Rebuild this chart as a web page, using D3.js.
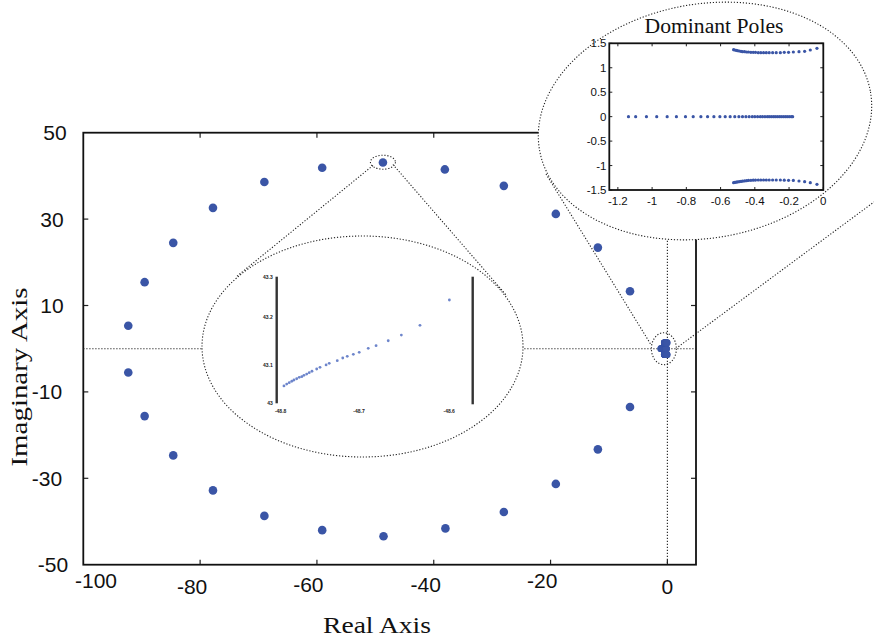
<!DOCTYPE html>
<html>
<head>
<meta charset="utf-8">
<script src="https://cdn.jsdelivr.net/npm/d3@7/dist/d3.min.js"></script>
<style>
  html, body { margin: 0; padding: 0; background: #fff; }
  svg { display: block; }
</style>
</head>
<body>
<svg id="chart" width="874" height="642"></svg>
<script>
// ---- closed-loop poles (ring) ----
const ringRe = [-48.7, -59.1, -69.0, -77.8, -84.6, -89.5, -92.3, -38.1, -28.0, -19.1, -11.9, -6.4,
                -92.3, -89.5, -84.6, -77.8, -69.0, -59.1, -48.6, -38.0, -28.0, -19.1, -11.9, -6.4];
const ringIm = [43.1, 41.9, 38.6, 32.6, 24.5, 15.4, 5.3, 41.5, 37.7, 31.2, 23.4, 13.3,
                -5.5, -15.6, -24.7, -32.8, -38.7, -42.0, -43.4, -41.6, -37.8, -31.3, -23.3, -13.5];

// ---- dominant poles ----
const realBranchRe = [-1.138, -1.096, -1.033, -0.973, -0.912, -0.858, -0.805, -0.760, -0.715, -0.676,
                      -0.639, -0.604, -0.573, -0.544, -0.517, -0.493, -0.472, -0.452, -0.433, -0.415,
                      -0.400, -0.384, -0.368, -0.355, -0.341, -0.327, -0.316, -0.304, -0.292, -0.281,
                      -0.269, -0.257, -0.246, -0.234, -0.222, -0.211, -0.199, -0.187, -0.179];
const upperRe = [-0.524, -0.517, -0.509, -0.501, -0.491, -0.481, -0.472, -0.460, -0.448, -0.437,
                 -0.423, -0.409, -0.396, -0.380, -0.365, -0.349, -0.333, -0.316, -0.296, -0.275,
                 -0.251, -0.228, -0.203, -0.175, -0.142, -0.109, -0.076, -0.037];
const upperIm = [1.370, 1.363, 1.357, 1.350, 1.343, 1.336, 1.329, 1.329, 1.322, 1.322,
                 1.316, 1.316, 1.316, 1.309, 1.309, 1.309, 1.309, 1.309, 1.309, 1.309,
                 1.309, 1.316, 1.316, 1.322, 1.329, 1.336, 1.363, 1.397];
const lowerRe = upperRe;
const lowerIm = [-1.350, -1.345, -1.340, -1.335, -1.330, -1.325, -1.320, -1.315, -1.310, -1.305,
                 -1.302, -1.300, -1.298, -1.295, -1.295, -1.295, -1.295, -1.295, -1.295, -1.295,
                 -1.295, -1.300, -1.302, -1.305, -1.316, -1.329, -1.350, -1.384];

// ---- magnified pole trajectory (fraction of the magnified frame) ----
const miniU = [0.881, 0.731, 0.636, 0.569, 0.507, 0.467, 0.421, 0.391, 0.360, 0.337, 0.309, 0.268, 0.252,
               0.221, 0.204, 0.180, 0.166, 0.153, 0.139, 0.128, 0.115, 0.102, 0.088, 0.077, 0.064, 0.051, 0.037];
const miniV = [0.816, 0.616, 0.539, 0.494, 0.455, 0.434, 0.403, 0.387, 0.371, 0.358, 0.337, 0.316, 0.303,
               0.284, 0.271, 0.253, 0.242, 0.231, 0.221, 0.210, 0.205, 0.194, 0.184, 0.174, 0.163, 0.152, 0.137];
const miniLeftLabels = ["43.3", "43.2", "43.1", "43"];
const miniBottomLabels = ["-48.8", "-48.7", "-48.6"];

// ---- tick values ----
const xTicks = [-100, -80, -60, -40, -20, 0];
const yTicks = [50, 30, 10, -10, -30, -50];
const insetXTicks = [-1.2, -1, -0.8, -0.6, -0.4, -0.2, 0];
const insetYTicks = [1.5, 1, 0.5, 0, -0.5, -1, -1.5];

// label placement tweaks (pixels)
const xLabelDx = [12.7, -8, -8.6, -8, -8.4, 0];
const xLabelDy = [16, 21.3, 19.3, 19.3, 16, 21.3];
const yLabelDx = [-28.3, -31.3, -31.3, -36.3, -36.3, -30.3];

const BLUE = "#3a55a6";
const DOT = "1.2,1.8";
const sansFont = "'Liberation Sans', Arial, sans-serif";
const serifFont = "'Liberation Serif', 'Times New Roman', serif";

const svg = d3.select("#chart");

// ================= main plot =================
const x = d3.scaleLinear().domain([-100, 4.9]).range([83.3, 696]);
const y = d3.scaleLinear().domain([-50, 50]).range([564.7, 132.7]);
const [L, R] = x.range();
const [B, T] = y.range();

const main = svg.append("g");

// inward ticks on all four sides
const tickG = main.append("g").attr("stroke", "#222").attr("stroke-width", 1.2);
xTicks.slice(1).forEach(v => {
  tickG.append("line").attr("x1", x(v)).attr("x2", x(v)).attr("y1", B).attr("y2", B - 5);
  tickG.append("line").attr("x1", x(v)).attr("x2", x(v)).attr("y1", T).attr("y2", T + 5);
});
yTicks.slice(1, -1).forEach(v => {
  tickG.append("line").attr("x1", L).attr("x2", L + 5).attr("y1", y(v)).attr("y2", y(v));
  tickG.append("line").attr("x1", R).attr("x2", R - 5).attr("y1", y(v)).attr("y2", y(v));
});

// frame
main.append("rect").attr("x", L).attr("y", T).attr("width", R - L).attr("height", B - T)
  .attr("fill", "none").attr("stroke", "#111").attr("stroke-width", 1.8);

// tick labels
main.append("g").selectAll("text").data(xTicks).join("text")
  .attr("x", (d, i) => x(d) + xLabelDx[i])
  .attr("y", (d, i) => B + xLabelDy[i])
  .attr("text-anchor", "middle").attr("dominant-baseline", "central")
  .attr("font-family", sansFont).attr("font-size", 21).attr("fill", "#111")
  .text(d => d);
main.append("g").selectAll("text").data(yTicks).join("text")
  .attr("x", (d, i) => L + yLabelDx[i])
  .attr("y", d => y(d))
  .attr("text-anchor", "middle").attr("dominant-baseline", "central")
  .attr("font-family", sansFont).attr("font-size", 21).attr("fill", "#111")
  .text(d => d);

// axis titles
main.append("text").attr("x", 377).attr("y", 633)
  .attr("text-anchor", "middle").attr("font-family", serifFont).attr("font-size", 24)
  .attr("textLength", 108).attr("lengthAdjust", "spacingAndGlyphs")
  .attr("fill", "#111").text("Real Axis");
main.append("text").attr("transform", "translate(27,377) rotate(-90)")
  .attr("text-anchor", "middle").attr("font-family", serifFont).attr("font-size", 24)
  .attr("textLength", 179).attr("lengthAdjust", "spacingAndGlyphs")
  .attr("fill", "#111").text("Imaginary Axis");

// dotted guide lines through the origin
const guides = main.append("g").attr("stroke", "#222").attr("stroke-width", 1.1)
  .attr("stroke-dasharray", DOT).attr("fill", "none");
guides.append("line").attr("x1", L).attr("x2", R).attr("y1", y(0)).attr("y2", y(0));
guides.append("line").attr("x1", x(0)).attr("x2", x(0)).attr("y1", T).attr("y2", B);

// connector lines towards the magnified views
const topPole = [x(ringRe[0]), y(ringIm[0])];
guides.append("line").attr("x1", topPole[0] - 10).attr("y1", topPole[1] + 3).attr("x2", 236).attr("y2", 277);
guides.append("line").attr("x1", topPole[0] + 10).attr("y1", topPole[1] + 2).attr("x2", 507).attr("y2", 296);
guides.append("line").attr("x1", x(0) - 17).attr("y1", y(0) - 5).attr("x2", 546).attr("y2", 174);
guides.append("line").attr("x1", x(0) + 11).attr("y1", y(0) - 2).attr("x2", 874).attr("y2", 202);

// poles
const ring = ringRe.map((r, i) => [r, ringIm[i]]);
main.append("g").selectAll("circle").data(ring).join("circle")
  .attr("cx", d => x(d[0])).attr("cy", d => y(d[1])).attr("r", 4.3).attr("fill", BLUE);

const dominant = realBranchRe.map(r => [r, 0])
  .concat(upperRe.map((r, i) => [r, upperIm[i]]))
  .concat(lowerRe.map((r, i) => [r, lowerIm[i]]));
main.append("g").selectAll("circle").data(dominant).join("circle")
  .attr("cx", d => x(d[0])).attr("cy", d => y(d[1])).attr("r", 3.4).attr("fill", BLUE);

// small marker ellipses
guides.append("ellipse").attr("cx", topPole[0]).attr("cy", topPole[1] - 0.3).attr("rx", 12.5).attr("ry", 7);
guides.append("ellipse").attr("cx", x(0) - 3.5).attr("cy", y(0)).attr("rx", 12.5).attr("ry", 16);

// ================= magnified view of the top pole =================
const mid = svg.append("g");
mid.append("ellipse").attr("cx", 362.5).attr("cy", 346.5).attr("rx", 160.5).attr("ry", 110.5)
  .attr("fill", "#fff").attr("stroke", "#222").attr("stroke-width", 1.1).attr("stroke-dasharray", DOT);

const xm = d3.scaleLinear().domain([0, 1]).range([276.7, 472.7]);
const ym = d3.scaleLinear().domain([0, 1]).range([403.3, 276.7]);
mid.append("line").attr("x1", xm(0)).attr("x2", xm(0)).attr("y1", ym(1)).attr("y2", ym(0))
  .attr("stroke", "#333").attr("stroke-width", 2.4);
mid.append("line").attr("x1", xm(1)).attr("x2", xm(1)).attr("y1", ym(1)).attr("y2", ym(0) + 1)
  .attr("stroke", "#333").attr("stroke-width", 2.4);
const leftLabY = [1, 0.68, 0.3, 0];
mid.append("g").selectAll("text").data(miniLeftLabels).join("text")
  .attr("x", xm(0) - 4).attr("y", (d, i) => ym(leftLabY[i]))
  .attr("text-anchor", "end").attr("dominant-baseline", "central")
  .attr("font-family", sansFont).attr("font-size", 5).attr("font-weight", "bold").attr("fill", "#222")
  .text(d => d);
const botLabX = [0.02, 0.42, 0.88];
mid.append("g").selectAll("text").data(miniBottomLabels).join("text")
  .attr("x", (d, i) => xm(botLabX[i])).attr("y", ym(0) + 8)
  .attr("text-anchor", "middle").attr("dominant-baseline", "central")
  .attr("font-family", sansFont).attr("font-size", 5).attr("font-weight", "bold").attr("fill", "#222")
  .text(d => d);
mid.append("g").selectAll("circle").data(miniU.map((u, i) => [u, miniV[i]])).join("circle")
  .attr("cx", d => xm(d[0])).attr("cy", d => ym(d[1])).attr("r", 1.4)
  .attr("fill", "#5470c2").attr("opacity", 0.85);

// ================= dominant poles inset =================
const ins = svg.append("g");
ins.append("ellipse").attr("transform", "translate(705,121) rotate(-10)")
  .attr("rx", 168).attr("ry", 117)
  .attr("fill", "#fff").attr("stroke", "#222").attr("stroke-width", 1.1).attr("stroke-dasharray", DOT);

const xi = d3.scaleLinear().domain([-1.25, 0]).range([609.3, 823.3]);
const yi = d3.scaleLinear().domain([-1.5, 1.5]).range([190, 43.3]);

ins.append("text").attr("x", 714).attr("y", 33)
  .attr("text-anchor", "middle").attr("font-family", serifFont).attr("font-size", 20)
  .attr("textLength", 139).attr("lengthAdjust", "spacingAndGlyphs")
  .attr("fill", "#111").text("Dominant Poles");

const iTicks = ins.append("g").attr("stroke", "#222").attr("stroke-width", 1);
insetXTicks.forEach(v => {
  iTicks.append("line").attr("x1", xi(v)).attr("x2", xi(v)).attr("y1", yi(-1.5)).attr("y2", yi(-1.5) - 3);
  iTicks.append("line").attr("x1", xi(v)).attr("x2", xi(v)).attr("y1", yi(1.5)).attr("y2", yi(1.5) + 3);
});
insetYTicks.forEach(v => {
  iTicks.append("line").attr("x1", xi(-1.25)).attr("x2", xi(-1.25) + 3).attr("y1", yi(v)).attr("y2", yi(v));
  iTicks.append("line").attr("x1", xi(0)).attr("x2", xi(0) - 3).attr("y1", yi(v)).attr("y2", yi(v));
});
ins.append("rect").attr("x", xi(-1.25)).attr("y", yi(1.5))
  .attr("width", xi(0) - xi(-1.25)).attr("height", yi(-1.5) - yi(1.5))
  .attr("fill", "none").attr("stroke", "#111").attr("stroke-width", 1.8);

ins.append("g").selectAll("text").data(insetXTicks).join("text")
  .attr("x", d => xi(d)).attr("y", 200.5)
  .attr("text-anchor", "middle").attr("dominant-baseline", "central")
  .attr("font-family", sansFont).attr("font-size", 11.5).attr("fill", "#111")
  .text(d => d);
ins.append("g").selectAll("text").data(insetYTicks).join("text")
  .attr("x", 606.5).attr("y", d => yi(d))
  .attr("text-anchor", "end").attr("dominant-baseline", "central")
  .attr("font-family", sansFont).attr("font-size", 11.5).attr("fill", "#111")
  .text(d => d);

ins.append("g").selectAll("circle").data(dominant).join("circle")
  .attr("cx", d => xi(d[0])).attr("cy", d => yi(d[1])).attr("r", 1.6).attr("fill", BLUE);
</script>
</body>
</html>
